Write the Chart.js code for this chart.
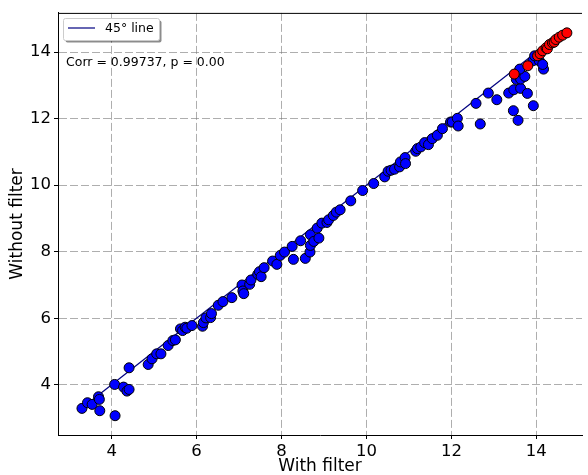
<!DOCTYPE html>
<html>
<head>
<meta charset="utf-8">
<script src="https://cdn.jsdelivr.net/npm/chart.js@4.4.1/dist/chart.umd.min.js"></script>
<style>
  html, body { margin: 0; padding: 0; background: #fff; }
  #wrap { width: 588px; height: 475px; }
</style>
</head>
<body>
<div id="wrap"><canvas id="mainChart" width="588" height="475"></canvas></div>
<script>
// Values
const blueX = [3.30, 3.43, 3.54, 3.69, 3.71, 3.72, 4.08, 4.07, 4.28, 4.36, 4.41, 4.41, 4.86, 4.95, 5.06, 5.16,
  5.33, 5.44, 5.50, 5.62, 5.67, 5.73, 5.77, 5.89, 6.14, 6.16, 6.22, 6.33, 6.35, 6.51, 6.62, 6.83,
  7.07, 7.09, 7.11, 7.25, 7.28, 7.44, 7.48, 7.52, 7.59, 7.79, 7.89, 7.97, 8.07, 8.25, 8.28, 8.45,
  8.56, 8.68, 8.67, 8.68, 8.76, 8.84, 8.88, 8.95, 9.07, 9.11, 9.22, 9.29, 9.38, 9.63, 9.91, 10.17,
  10.43, 10.51, 10.58, 10.66, 10.78, 10.80, 10.91, 10.92, 11.16, 11.20, 11.28, 11.37, 11.46, 11.55,
  11.67, 11.79, 11.98, 12.02, 12.14, 12.16, 12.68, 12.58, 12.87, 13.07, 13.35, 13.47, 13.46, 13.57,
  13.63, 13.79, 13.93, 13.53, 13.63, 13.73, 13.61, 13.92, 14.07, 14.17, 14.15, 13.96];
const blueY = [3.29, 3.46, 3.41, 3.64, 3.56, 3.22, 3.07, 4.01, 3.93, 3.81, 3.86, 4.51, 4.61, 4.78, 4.93, 4.93,
  5.18, 5.33, 5.35, 5.68, 5.63, 5.73, 5.70, 5.78, 5.76, 5.87, 6.01, 6.02, 6.14, 6.39, 6.50, 6.62,
  7.00, 6.82, 6.74, 7.02, 7.15, 7.32, 7.40, 7.25, 7.52, 7.72, 7.62, 7.89, 7.99, 8.16, 7.77, 8.33,
  7.80, 8.51, 7.99, 8.19, 8.31, 8.71, 8.41, 8.86, 8.88, 8.96, 9.09, 9.19, 9.26, 9.53, 9.84, 10.05,
  10.25, 10.42, 10.45, 10.48, 10.55, 10.70, 10.83, 10.65, 11.02, 11.10, 11.15, 11.28, 11.22, 11.40,
  11.50, 11.70, 11.90, 11.90, 12.01, 11.78, 11.84, 12.46, 12.77, 12.57, 12.77, 12.87, 12.24, 11.95,
  12.91, 12.76, 12.39, 13.18, 13.19, 13.27, 13.49, 13.74, 13.74, 13.49, 13.63, 13.89];

const redX = [13.48, 13.80, 14.03, 14.09, 14.15, 14.23, 14.26, 14.31, 14.38, 14.42, 14.46, 14.54, 14.62, 14.72];
const redY = [13.34, 13.59, 13.89, 13.95, 14.04, 14.13, 14.10, 14.23, 14.28, 14.30, 14.38, 14.45, 14.51, 14.58];

const lineEnds = [3.30, 14.72];
const tickValues = [4, 6, 8, 10, 12, 14];
const legendLabel = '45\u00b0 line';
const corrText = 'Corr = 0.99737, p = 0.00';

const toPoints = (xs, ys) => xs.map((x, i) => ({ x: x, y: ys[i] }));

// Legend box, annotation and top border
const overlayPlugin = {
    id: 'overlay',
    afterDraw(chart) {
        const ctx = chart.ctx;
        const area = chart.chartArea;
        ctx.save();
        // top spine
        ctx.strokeStyle = '#000';
        ctx.lineWidth = 1;
        ctx.beginPath();
        ctx.moveTo(area.left, area.top + 0.5);
        ctx.lineTo(area.right, area.top + 0.5);
        ctx.stroke();

        // legend shadow + box
        const bx = 63.5, by = 18.5, bw = 96, bh = 22;
        ctx.fillStyle = 'rgba(0,0,0,0.45)';
        ctx.beginPath();
        ctx.roundRect(bx + 2, by + 2, bw, bh, 2);
        ctx.fill();
        ctx.fillStyle = '#fff';
        ctx.strokeStyle = '#cccccc';
        ctx.beginPath();
        ctx.roundRect(bx, by, bw, bh, 2);
        ctx.fill();
        ctx.stroke();

        ctx.strokeStyle = '#000080';
        ctx.lineWidth = 1.2;
        ctx.beginPath();
        ctx.moveTo(68, 28);
        ctx.lineTo(95, 28);
        ctx.stroke();

        ctx.fillStyle = '#000';
        ctx.font = '12.5px "DejaVu Sans"';
        ctx.textBaseline = 'middle';
        ctx.fillText(legendLabel, 105, 28.5);
        ctx.fillText(corrText, 66, 62.5);
        ctx.restore();
    }
};

const axisCommon = {
    type: 'linear',
    grid: {
        color: 'rgba(120,120,120,0.6)',
        lineWidth: 1,
        tickColor: '#000',
        tickLength: 4,
        tickWidth: 1
    },
    border: { display: true, color: '#000', width: 1, dash: [8, 3] },
    ticks: {
        color: '#000',
        font: { family: 'DejaVu Sans', size: 16.5 },
        padding: 3
    }
};

const titleFont = { family: 'DejaVu Sans', size: 17, lineHeight: 1 };

const ctx = document.getElementById('mainChart').getContext('2d');
new Chart(ctx, {
    type: 'scatter',
    data: {
        datasets: [
            {
                label: 'red',
                data: toPoints(redX, redY),
                backgroundColor: '#ff0000',
                borderColor: '#000',
                borderWidth: 1,
                pointRadius: 5,
                order: 1
            },
            {
                label: 'blue',
                data: toPoints(blueX, blueY),
                backgroundColor: '#0000ff',
                borderColor: '#000',
                borderWidth: 1,
                pointRadius: 5,
                order: 2
            },
            {
                type: 'line',
                label: legendLabel,
                data: toPoints(lineEnds, lineEnds),
                borderColor: '#000080',
                borderWidth: 1.2,
                pointRadius: 0,
                fill: false,
                order: 3
            }
        ]
    },
    options: {
        responsive: false,
        animation: false,
        layout: { padding: { top: 10, right: 0, left: 0, bottom: 0 } },
        plugins: {
            legend: { display: false },
            tooltip: { enabled: false }
        },
        scales: {
            x: {
                ...axisCommon,
                min: 2.736,
                max: 15.076,
                afterBuildTicks: s => { s.ticks = tickValues.map(v => ({ value: v })); },
                afterFit: s => { s.height = 40; },
                title: {
                    display: true,
                    text: 'With filter',
                    color: '#000',
                    font: titleFont,
                    padding: { top: 0, bottom: 0 }
                }
            },
            y: {
                ...axisCommon,
                min: 2.49,
                max: 15.18,
                afterBuildTicks: s => { s.ticks = tickValues.map(v => ({ value: v })); },
                afterFit: s => { s.width = 58; },
                title: {
                    display: true,
                    text: 'Without filter',
                    color: '#000',
                    font: titleFont,
                    padding: { top: 9, bottom: 0 }
                }
            }
        }
    },
    plugins: [overlayPlugin]
});
</script>
</body>
</html>
